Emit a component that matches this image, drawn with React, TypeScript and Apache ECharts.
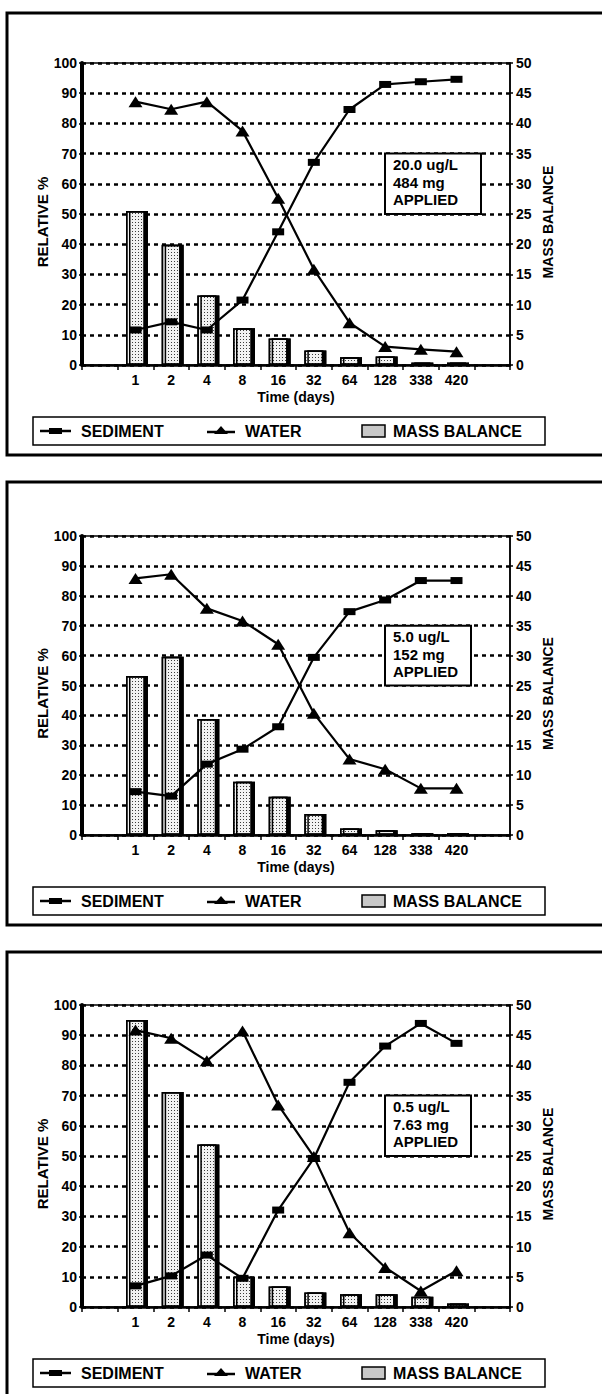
import React, { useEffect, useRef } from "react";
import * as echarts from "echarts";

// Sampling times (days) on the category axis, with an empty slot at each end
const DAYS = ["1", "2", "4", "8", "16", "32", "64", "128", "338", "420"];
const CATEGORIES = ["", ...DAYS, ""];

// Dose 20.0 ug/L
const SEDIMENT_20 = [11.6, 14.3, 11.6, 21.5, 44.1, 67.1, 84.6, 92.9, 93.8, 94.6];
const WATER_20 = [87.2, 84.7, 87.2, 77.5, 55.2, 31.7, 14.0, 6.1, 5.2, 4.4];
const MASS_20 = [25.5, 19.9, 11.5, 6.1, 4.4, 2.4, 1.3, 1.4, 0.4, 0.4];

// Dose 5.0 ug/L
const SEDIMENT_5 = [14.5, 13.0, 23.7, 28.7, 36.2, 59.4, 74.7, 78.6, 85.1, 85.1];
const WATER_5 = [85.8, 87.2, 75.8, 71.6, 63.8, 40.7, 25.4, 22.0, 15.6, 15.6];
const MASS_5 = [26.6, 29.8, 19.4, 8.9, 6.4, 3.5, 1.1, 0.8, 0.3, 0.3];

// Dose 0.5 ug/L
const SEDIMENT_05 = [7.0, 10.3, 17.2, 9.5, 32.1, 49.2, 74.4, 86.4, 93.9, 87.3];
const WATER_05 = [91.7, 89.0, 81.5, 91.4, 66.9, 49.8, 24.6, 13.1, 5.3, 12.0];
const MASS_05 = [47.5, 35.6, 26.9, 5.0, 3.4, 2.4, 2.1, 2.1, 1.7, 0.6];

const NOTES = [
  ["20.0 ug/L", "484 mg", "APPLIED"],
  ["5.0 ug/L", "152 mg", "APPLIED"],
  ["0.5 ug/L", "7.63 mg", "APPLIED"],
];

const PANELS = [
  { sediment: SEDIMENT_20, water: WATER_20, mass: MASS_20, note: NOTES[0] },
  { sediment: SEDIMENT_5, water: WATER_5, mass: MASS_5, note: NOTES[1] },
  { sediment: SEDIMENT_05, water: WATER_05, mass: MASS_05, note: NOTES[2] },
];

// Page layout of the three stacked panels
const FRAME_TOP = [13, 482, 952];
const PLOT_TOP = [63, 536, 1005];
const PLOT_BOTTOM = [365, 835, 1307];
const NOTE_RIGHT = [481, 471, 471];
const PLOT_LEFT = 82;
const PLOT_RIGHT = 510;

const FONT = '"Liberation Sans", Arial, Helvetica, sans-serif';
const WEIGHT = "bold";
const INK = "#000";

const pad = (arr: number[]) => [null, ...arr, null];

function buildOption() {
  const grid: any[] = [];
  const xAxis: any[] = [];
  const yAxis: any[] = [];
  const series: any[] = [];
  const graphic: any[] = [];

  const txt = (size: number) => ({ color: INK, fontSize: size, fontFamily: FONT, fontWeight: WEIGHT });

  PANELS.forEach((p, k) => {
    const top = PLOT_TOP[k];
    const bottom = PLOT_BOTTOM[k];
    const mid = (top + bottom) / 2;

    grid.push({
      left: PLOT_LEFT,
      width: PLOT_RIGHT - PLOT_LEFT,
      top,
      height: bottom - top,
      show: true,
      borderColor: INK,
      borderWidth: 1.5,
      backgroundColor: "transparent",
    });

    xAxis.push({
      type: "category",
      gridIndex: k,
      data: CATEGORIES,
      boundaryGap: true,
      axisLine: { lineStyle: { color: INK, width: 2.5 } },
      axisTick: { show: true, interval: 0, length: 5, lineStyle: { color: INK, width: 1.5 } },
      axisLabel: { interval: 0, margin: 8, ...txt(14) },
      name: "Time (days)",
      nameLocation: "middle",
      nameGap: 25,
      nameTextStyle: txt(14),
      splitLine: { show: false },
    });

    yAxis.push({
      type: "value",
      gridIndex: k,
      position: "left",
      min: 0,
      max: 100,
      interval: 10,
      axisLine: { show: true, lineStyle: { color: INK, width: 4 } },
      axisTick: { show: true, length: 3, lineStyle: { color: INK, width: 1.5 } },
      axisLabel: { margin: 5, ...txt(14) },
      splitLine: { show: true, lineStyle: { color: INK, width: 2.5, type: [4, 4] } },
    });

    yAxis.push({
      type: "value",
      gridIndex: k,
      position: "right",
      min: 0,
      max: 50,
      interval: 5,
      axisLine: { show: true, lineStyle: { color: INK, width: 1.5 } },
      axisTick: { show: true, length: 3, lineStyle: { color: INK, width: 1.5 } },
      axisLabel: { margin: 6, ...txt(14) },
      splitLine: { show: false },
    });

    series.push({
      name: "MASS BALANCE",
      type: "bar",
      xAxisIndex: k,
      yAxisIndex: 2 * k + 1,
      data: pad(p.mass),
      barWidth: 19,
      z: 2,
      itemStyle: {
        color: "#f2f2f2",
        borderColor: INK,
        borderWidth: 1.5,
        shadowColor: INK,
        shadowBlur: 0,
        shadowOffsetX: 3,
        shadowOffsetY: 0,
        decal: {
          symbol: "rect",
          symbolSize: 1,
          color: "rgba(0,0,0,0.5)",
          dashArrayX: [1, 2],
          dashArrayY: [1, 2],
          rotation: 0,
        },
      },
    });

    series.push({
      name: "SEDIMENT",
      type: "line",
      xAxisIndex: k,
      yAxisIndex: 2 * k,
      data: pad(p.sediment),
      symbol: "rect",
      symbolSize: [12, 7],
      z: 4,
      lineStyle: { color: INK, width: 2.2 },
      itemStyle: { color: INK },
    });

    series.push({
      name: "WATER",
      type: "line",
      xAxisIndex: k,
      yAxisIndex: 2 * k,
      data: pad(p.water),
      symbol: "triangle",
      symbolSize: [14, 11],
      z: 4,
      lineStyle: { color: INK, width: 2.2 },
      itemStyle: { color: INK },
    });

    // Panel frame (runs past the right edge of the page)
    graphic.push({
      type: "rect",
      silent: true,
      z: 1,
      shape: { x: 7, y: FRAME_TOP[k], width: 700, height: bottom + 90 - FRAME_TOP[k] },
      style: { fill: "none", stroke: INK, lineWidth: 3 },
    });

    // Axis titles
    const vertical = (text: string, x: number, size: number) => ({
      type: "text",
      silent: true,
      x,
      y: mid + 8,
      rotation: Math.PI / 2,
      style: {
        text,
        fontSize: size,
        fontFamily: FONT,
        fontWeight: WEIGHT,
        fill: INK,
        align: "center",
        verticalAlign: "middle",
      },
    });
    graphic.push(vertical("RELATIVE %", 42, 15));
    graphic.push(vertical("MASS BALANCE", 548, 14));

    // Dose annotation box, from the 70 % to the 50 % gridline
    const boxTop = bottom - (bottom - top) * 0.7;
    const boxBottom = bottom - (bottom - top) * 0.5;
    graphic.push({
      type: "rect",
      silent: true,
      z: 50,
      shape: { x: 385, y: boxTop, width: NOTE_RIGHT[k] - 385, height: boxBottom - boxTop },
      style: { fill: "#fff", stroke: INK, lineWidth: 2 },
    });
    p.note.forEach((line, i) => {
      graphic.push({
        type: "text",
        silent: true,
        z: 51,
        x: 393,
        y: boxTop + 11 + i * 17.5,
        style: {
          text: line,
          fontSize: 15,
          fontFamily: FONT,
          fontWeight: WEIGHT,
          fill: INK,
          align: "left",
          verticalAlign: "middle",
        },
      });
    });

    // Legend strip
    const lt = bottom + 52;
    const lh = 28;
    const ly = lt + lh / 2;
    const legendText = (text: string, x: number) => ({
      type: "text",
      silent: true,
      z: 6,
      x,
      y: ly,
      style: { text, fontSize: 16, fontFamily: FONT, fontWeight: WEIGHT, fill: INK, verticalAlign: "middle" },
    });
    graphic.push({
      type: "rect",
      silent: true,
      z: 5,
      shape: { x: 33, y: lt, width: 512, height: lh },
      style: { fill: "#fff", stroke: INK, lineWidth: 1.5 },
    });
    graphic.push({
      type: "line",
      silent: true,
      z: 6,
      shape: { x1: 40, y1: ly, x2: 71, y2: ly },
      style: { stroke: INK, lineWidth: 2.5 },
    });
    graphic.push({
      type: "rect",
      silent: true,
      z: 6,
      shape: { x: 49, y: ly - 3, width: 13, height: 6 },
      style: { fill: INK },
    });
    graphic.push(legendText("SEDIMENT", 81));
    graphic.push({
      type: "line",
      silent: true,
      z: 6,
      shape: { x1: 207, y1: ly + 1, x2: 235, y2: ly + 1 },
      style: { stroke: INK, lineWidth: 2.5 },
    });
    graphic.push({
      type: "polygon",
      silent: true,
      z: 6,
      shape: { points: [[214, ly + 3], [228, ly + 3], [221, ly - 5]] },
      style: { fill: INK },
    });
    graphic.push(legendText("WATER", 245));
    graphic.push({
      type: "rect",
      silent: true,
      z: 6,
      shape: { x: 362, y: ly - 6, width: 23, height: 12 },
      style: { fill: "#c8c8c8", stroke: INK, lineWidth: 1.5 },
    });
    graphic.push(legendText("MASS BALANCE", 393));
  });

  return {
    animation: false,
    backgroundColor: "#fff",
    grid,
    xAxis,
    yAxis,
    series,
    graphic: { elements: graphic },
  };
}

export default function App() {
  const ref = useRef<HTMLDivElement>(null);

  useEffect(() => {
    if (!ref.current) return;
    const chart = echarts.init(ref.current, undefined, { renderer: "svg" });
    chart.setOption(buildOption());
    return () => chart.dispose();
  }, []);

  return (
    <div
      ref={ref}
      style={{ position: "absolute", left: 0, top: 0, width: 602, height: 1394, background: "#fff" }}
    />
  );
}
